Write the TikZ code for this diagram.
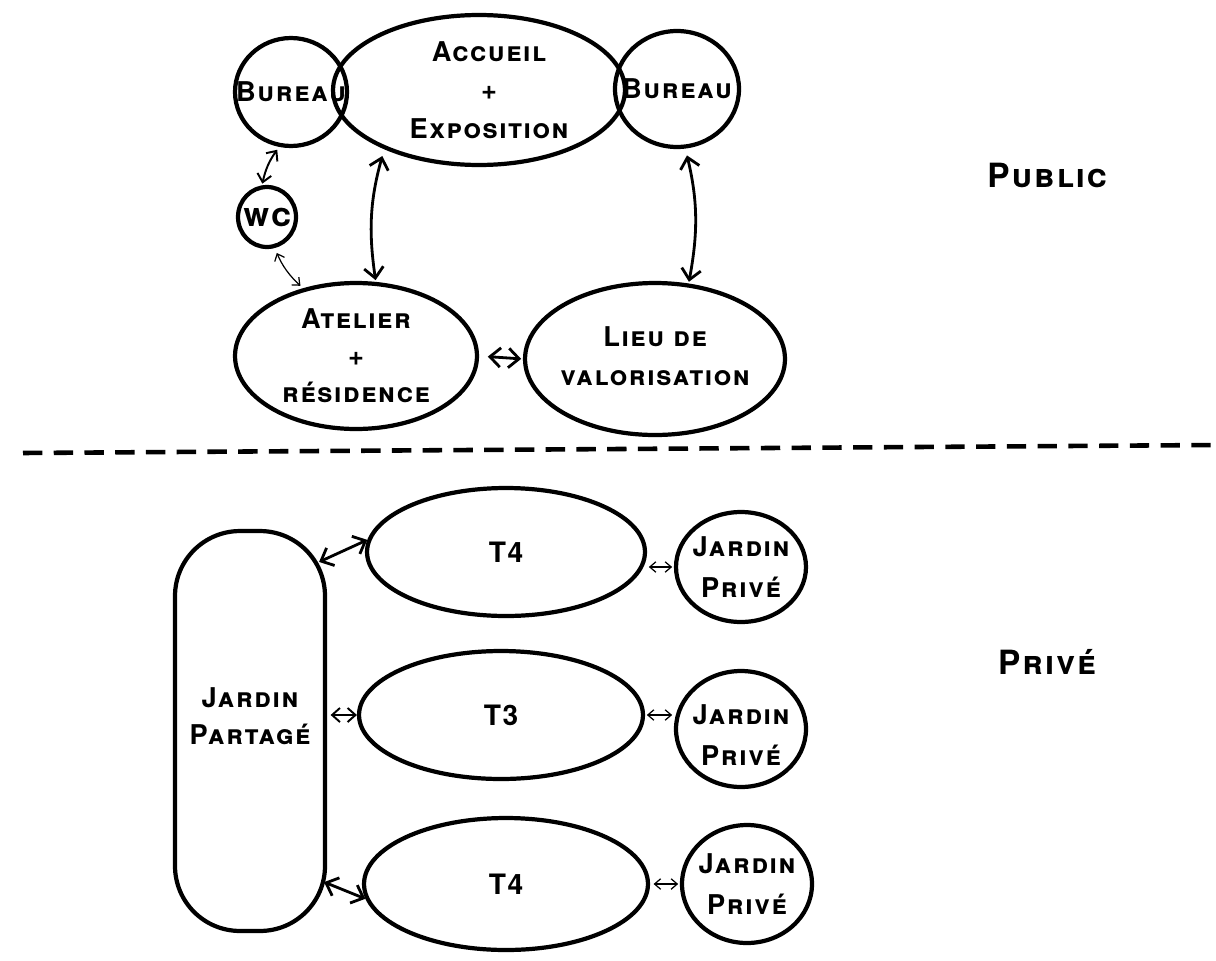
\documentclass[tikz,border=0pt]{standalone}
\usepackage{fontspec}
\setmainfont{TeX Gyre Heros}[LetterSpace=6]
\usetikzlibrary{shapes.geometric,arrows.meta}
\begin{document}
\begin{tikzpicture}[x=0.02cm,y=-0.02cm,
  every node/.style={font=\fontsize{15.5}{18}\selectfont\bfseries\scshape},
  blob/.style={draw,ellipse,line width=2.4pt,inner sep=0pt},
  txt/.style={align=center,inner sep=0pt},
  arr/.style={line width=1.6pt,{Straight Barb[length=6pt,width=11pt]}-{Straight Barb[length=6pt,width=11pt]}},
  marr/.style={line width=1.1pt,{Straight Barb[length=4.5pt,width=8pt]}-{Straight Barb[length=4.5pt,width=8pt]}},
  tarr/.style={line width=0.7pt,{Straight Barb[length=3.5pt,width=6pt]}-{Straight Barb[length=3.5pt,width=6pt]}},
  zone/.style={font=\fontsize{19}{22}\selectfont\bfseries\scshape},
  flat/.style={font=\fontsize{16}{19}\selectfont\bfseries}
]
\useasboundingbox (0,0) rectangle (1216,960);

% ---------- public part ----------
\node[blob,minimum width=2.24cm,minimum height=2.16cm,label={[txt]center:Bureau}] (bureauL) at (291,92) {};
\node[blob,minimum width=5.84cm,minimum height=3.0cm,label={[txt,xshift=0.2cm]center:Accueil\\[4pt]+\\[4pt]Exposition}] (accueil) at (479,90) {};
\node[blob,minimum width=2.48cm,minimum height=2.32cm,label={[txt]center:Bureau}] (bureauR) at (677,89) {};
\node[blob,minimum width=1.16cm,minimum height=1.2cm,label={[txt,font=\fontsize{19}{22}\selectfont\bfseries\scshape]center:wc}] (wc) at (267,217) {};
\node[blob,minimum width=4.84cm,minimum height=2.92cm,label={[txt]center:Atelier\\[3pt]+\\[3pt]résidence}] (atelier) at (356,356) {};
\node[blob,minimum width=5.2cm,minimum height=3.04cm,label={[txt,yshift=0.06cm]center:Lieu de\\[4pt]valorisation}] (lieu) at (655,359) {};

\draw[marr,shorten <=2pt,shorten >=1pt] (bureauL.-102) to[bend right=12] (wc.99);
\draw[tarr,shorten <=3pt,shorten >=2pt] (wc.-76) to[bend right=12] (atelier.128);
\draw[arr,shorten <=4pt,shorten >=1pt] (accueil.-148) to[bend right=12] (atelier.75);
\draw[arr,shorten <=4pt,shorten >=1pt] (bureauR.-82) to[bend left=12] (lieu.66);
\draw[arr,shorten <=5pt,shorten >=1pt] (atelier.east) -- (lieu.west);

\node[zone] (public) at (1047,175) {Public};

% ---------- separator ----------
\draw[line width=2.6pt,dash pattern=on 11pt off 6.5pt] (23,453) -- (1216,445);

% ---------- private part ----------
\node[draw,line width=2.4pt,rounded corners=1.3cm,minimum width=3.0cm,minimum height=8.0cm,inner sep=0pt] (jp) at (250,731) {};
\node[txt] (jptext) at (250,716) {Jardin\\[3pt]Partagé};

\node[blob,minimum width=5.56cm,minimum height=2.56cm,label={[txt,flat]center:T4}] (t4a) at (506,552) {};
\node[blob,minimum width=5.68cm,minimum height=2.56cm,label={[txt,flat]center:T3}] (t3) at (501,715) {};
\node[blob,minimum width=5.68cm,minimum height=2.64cm,label={[txt,flat]center:T4}] (t4b) at (506,884) {};

\node[blob,minimum width=2.6cm,minimum height=2.2cm,label={[txt]center:Jardin\\[5pt]Privé}] (jpv1) at (741,567) {};
\node[blob,minimum width=2.6cm,minimum height=2.32cm,label={[txt,yshift=-0.12cm]center:Jardin\\[5pt]Privé}] (jpv2) at (741,729) {};
\node[blob,minimum width=2.6cm,minimum height=2.36cm,label={[txt]center:Jardin\\[5pt]Privé}] (jpv3) at (747,884) {};

\draw[arr] ([shift={(-8,33)}]jp.north east) -- (t4a.175);
\draw[marr,shorten <=2pt] (t3.west -| jp.east) -- (t3.west);
\draw[arr] ([shift={(-3,-51)}]jp.south east) -- (t4b.186);

\draw[tarr,shorten <=1pt,shorten >=1pt] (jpv1.west -| t4a.east) -- (jpv1.west);
\draw[tarr,shorten <=1pt,shorten >=1pt] (t3.east) -- (t3.east -| jpv2.west);
\draw[tarr,shorten <=2pt,shorten >=1pt] (t4b.east) -- (jpv3.west);

\node[zone] (prive) at (1047,662) {Privé};
\end{tikzpicture}
\end{document}
